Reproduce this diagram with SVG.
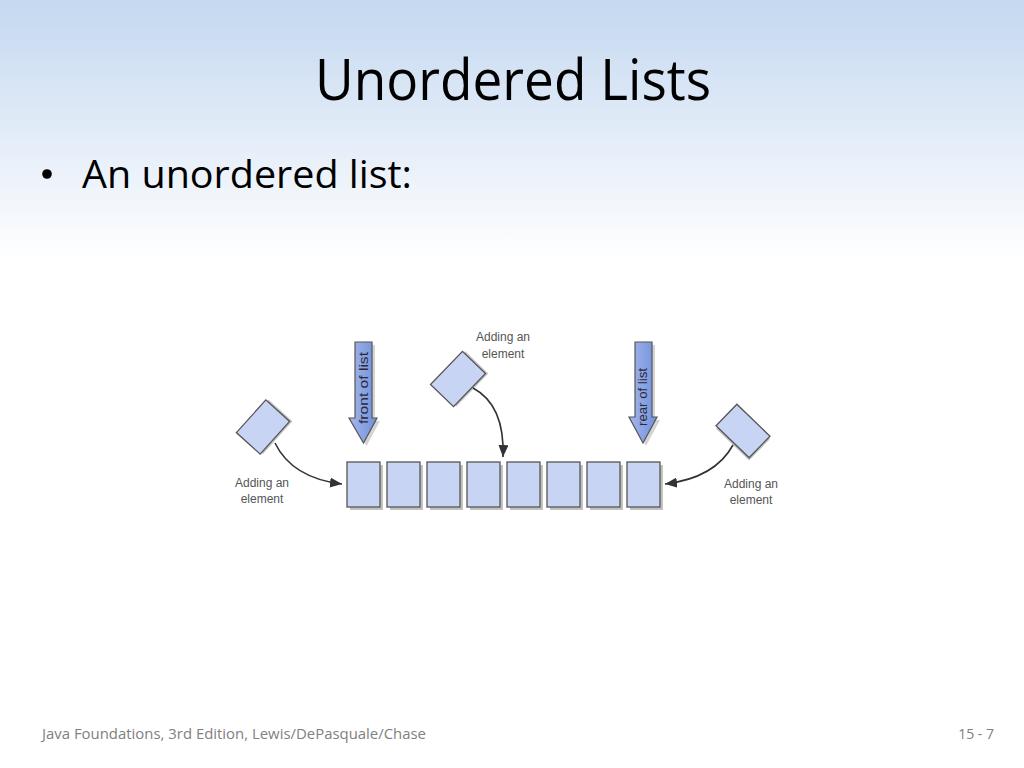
<svg xmlns="http://www.w3.org/2000/svg" width="1024" height="768" viewBox="0 0 1024 768">
<defs>
<linearGradient id="bg" x1="0" y1="0" x2="0" y2="1">
<stop offset="0" stop-color="#c4d8f0"/>
<stop offset="1" stop-color="#ffffff"/>
</linearGradient>
<linearGradient id="arrowFill" x1="0" y1="0" x2="1" y2="0">
<stop offset="0" stop-color="#a3b7ec"/>
<stop offset="1" stop-color="#7291da"/>
</linearGradient>
<marker id="head" markerWidth="12" markerHeight="10" refX="12" refY="5" orient="auto" markerUnits="userSpaceOnUse">
<path d="M0,0 L12,5 L0,10 Z" fill="#333"/>
</marker>
<style>
.box{fill:#c8d4f4;stroke:#555;stroke-width:1.3}
.shadow{fill:#9a9a9a;opacity:0.6}
.lbl{font-family:"Liberation Sans",Arial,sans-serif;font-size:12px;fill:#555;text-anchor:middle}
.conn{fill:none;stroke:#333;stroke-width:1.6}
.varrow{fill:url(#arrowFill);stroke:#555;stroke-width:1.2}
.vtext{font-family:"Liberation Sans",Arial,sans-serif;font-size:13px;fill:#2a2a3a;text-anchor:middle}
</style>
</defs>
<rect x="0" y="0" width="1024" height="260" fill="url(#bg)"/>
<rect x="0" y="260" width="1024" height="508" fill="#ffffff"/>

<text x="513" y="100" font-family="'Open Sans','Noto Sans',sans-serif" font-size="57" fill="#000" text-anchor="middle" textLength="396" lengthAdjust="spacingAndGlyphs">Unordered Lists</text>
<g id="bullet">
<circle cx="47" cy="174" r="4.8" fill="#000"/>
<text x="82" y="188" font-family="'Open Sans','Noto Sans',sans-serif" font-size="38" fill="#000" textLength="330" lengthAdjust="spacingAndGlyphs">An unordered list:</text>
</g>

<g id="list">
<rect class="shadow" x="350" y="465" width="33" height="45"/>
<rect class="shadow" x="390" y="465" width="33" height="45"/>
<rect class="shadow" x="430" y="465" width="33" height="45"/>
<rect class="shadow" x="470" y="465" width="33" height="45"/>
<rect class="shadow" x="510" y="465" width="33" height="45"/>
<rect class="shadow" x="550" y="465" width="33" height="45"/>
<rect class="shadow" x="590" y="465" width="33" height="45"/>
<rect class="shadow" x="630" y="465" width="33" height="45"/>
<rect class="box" x="347" y="462" width="33" height="45"/>
<rect class="box" x="387" y="462" width="33" height="45"/>
<rect class="box" x="427" y="462" width="33" height="45"/>
<rect class="box" x="467" y="462" width="33" height="45"/>
<rect class="box" x="507" y="462" width="33" height="45"/>
<rect class="box" x="547" y="462" width="33" height="45"/>
<rect class="box" x="587" y="462" width="33" height="45"/>
<rect class="box" x="627" y="462" width="33" height="45"/>
</g>

<g id="new-left">
<g transform="translate(263,427) rotate(-48)">
<rect class="shadow" x="-20" y="-14" width="44" height="32"/>
<rect class="box" x="-22" y="-16" width="44" height="32"/>
</g>
<text class="lbl" x="262" y="487">Adding an</text>
<text class="lbl" x="262" y="503">element</text>
</g>

<g id="new-middle">
<g transform="translate(458,379) rotate(-46)">
<rect class="shadow" x="-21" y="-14" width="46" height="32"/>
<rect class="box" x="-23" y="-16" width="46" height="32"/>
</g>
<text class="lbl" x="503" y="341">Adding an</text>
<text class="lbl" x="503" y="358">element</text>
</g>

<g id="new-right">
<g transform="translate(743,431) rotate(44)">
<rect class="shadow" x="-21" y="-13" width="46" height="30"/>
<rect class="box" x="-23" y="-15" width="46" height="30"/>
</g>
<text class="lbl" x="751" y="488">Adding an</text>
<text class="lbl" x="751" y="504">element</text>
</g>

<g id="front">
<polygon points="358,345 375,345 375,421 380,421 366.5,446 352,421 358,421" fill="#aaa" opacity="0.5"/>
<polygon class="varrow" points="355,342 372,342 372,418 377,418 363.5,443 349,418 355,418"/>
<text class="vtext" transform="translate(368,388) rotate(-90)" textLength="72" lengthAdjust="spacingAndGlyphs">front of list</text>
</g>

<g id="rear">
<polygon points="638,345 655,345 655,420 660,420 646,446 632,420 638,420" fill="#aaa" opacity="0.5"/>
<polygon class="varrow" points="635,342 652,342 652,417 657,417 643,443 629,417 635,417"/>
<text class="vtext" transform="translate(647,397) rotate(-90)" textLength="58" lengthAdjust="spacingAndGlyphs">rear of list</text>
</g>

<g id="connectors">
<path class="conn" d="M275,443 Q292,478 342,484" marker-end="url(#head)"/>
<path class="conn" d="M473,388 Q505,405 503,457" marker-end="url(#head)"/>
<path class="conn" d="M733,445 Q715,478 665,484" marker-end="url(#head)"/>
</g>

<g id="footer">
<text x="42" y="739" font-family="'Open Sans','Noto Sans',sans-serif" font-size="14" fill="#808080" textLength="384" lengthAdjust="spacingAndGlyphs">Java Foundations, 3rd Edition, Lewis/DePasquale/Chase</text>
<text x="994" y="739" font-family="'Open Sans','Noto Sans',sans-serif" font-size="14" fill="#808080" text-anchor="end">15 - 7</text>
</g>
</svg>
